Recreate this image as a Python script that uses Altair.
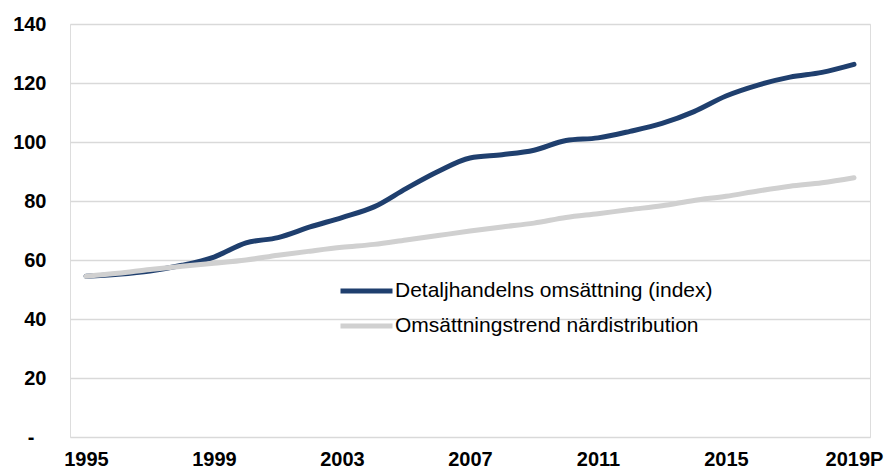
import altair as alt
import pandas as pd

years = [str(y) for y in range(1995, 2019)] + ["2019P"]

detaljhandel = [54.5, 55.2, 56.3, 58.2, 61.0, 65.8, 67.6, 71.2, 74.4, 78.0, 84.2, 90.0,
                94.6, 95.7, 97.2, 100.5, 101.4, 103.6, 106.3, 110.3, 115.6, 119.3, 122.0,
                123.6, 126.3]
nardistribution = [54.5, 55.5, 56.8, 57.9, 58.9, 60.0, 61.6, 63.0, 64.3, 65.3, 66.8, 68.3,
                   69.8, 71.2, 72.5, 74.4, 75.7, 77.1, 78.4, 80.2, 81.6, 83.4, 85.0,
                   86.2, 87.9]

serie_namn = ["Detaljhandelns omsättning (index)", "Omsättningstrend närdistribution"]
serie_farg = ["#1F3F6E", "#D0D0D0"]

df = pd.concat([
    pd.DataFrame({"år": years, "värde": detaljhandel, "serie": serie_namn[0]}),
    pd.DataFrame({"år": years, "värde": nardistribution, "serie": serie_namn[1]}),
])

chart = (
    alt.Chart(df)
    .mark_line(strokeWidth=5, interpolate="monotone", strokeCap="round")
    .encode(
        x=alt.X(
            "år:O",
            sort=years,
            scale=alt.Scale(type="point", padding=0.5),
            axis=alt.Axis(
                title=None,
                values=["1995", "1999", "2003", "2007", "2011", "2015", "2019P"],
                labelAngle=0,
                labelFont="Liberation Sans",
                labelFontWeight="bold",
                labelFontSize=20,
                labelColor="#000000",
                labelPadding=12,
                ticks=False,
                domain=False,
                grid=False,
            ),
        ),
        y=alt.Y(
            "värde:Q",
            scale=alt.Scale(domain=[0, 140]),
            axis=alt.Axis(
                title=None,
                values=[0, 20, 40, 60, 80, 100, 120, 140],
                # zero is shown as a dash, accounting style
                labelExpr="datum.value == 0 ? '-' : datum.label",
                labelFont="Liberation Sans",
                labelFontWeight="bold",
                labelFontSize=20,
                labelColor="#000000",
                labelPadding={"condition": {"test": "datum.value === 0", "value": 36}, "value": 24},
                ticks=False,
                domain=False,
                grid=True,
                gridColor="#D9D9D9",
                gridWidth=1.5,
            ),
        ),
        color=alt.Color(
            "serie:N",
            scale=alt.Scale(domain=serie_namn, range=serie_farg),
            legend=alt.Legend(
                title=None,
                orient="none",
                legendX=268,
                legendY=257,
                symbolType="stroke",
                symbolSize=2704,
                symbolStrokeWidth=5,
                clipHeight=20,
                labelFont="Liberation Sans",
                labelFontSize=21,
                labelColor="#000000",
                labelOffset=0,
                rowPadding=14,
                labelLimit=500,
            ),
        ),
    )
    .properties(
        width=800,
        height=413,
        autosize="none",
        padding={"left": 70, "top": 24, "right": 15, "bottom": 31},
    )
    .configure_view(stroke=None)
    .configure(background="white")
)

chart.save("out.html", embed_options={"renderer": "svg", "actions": False})
